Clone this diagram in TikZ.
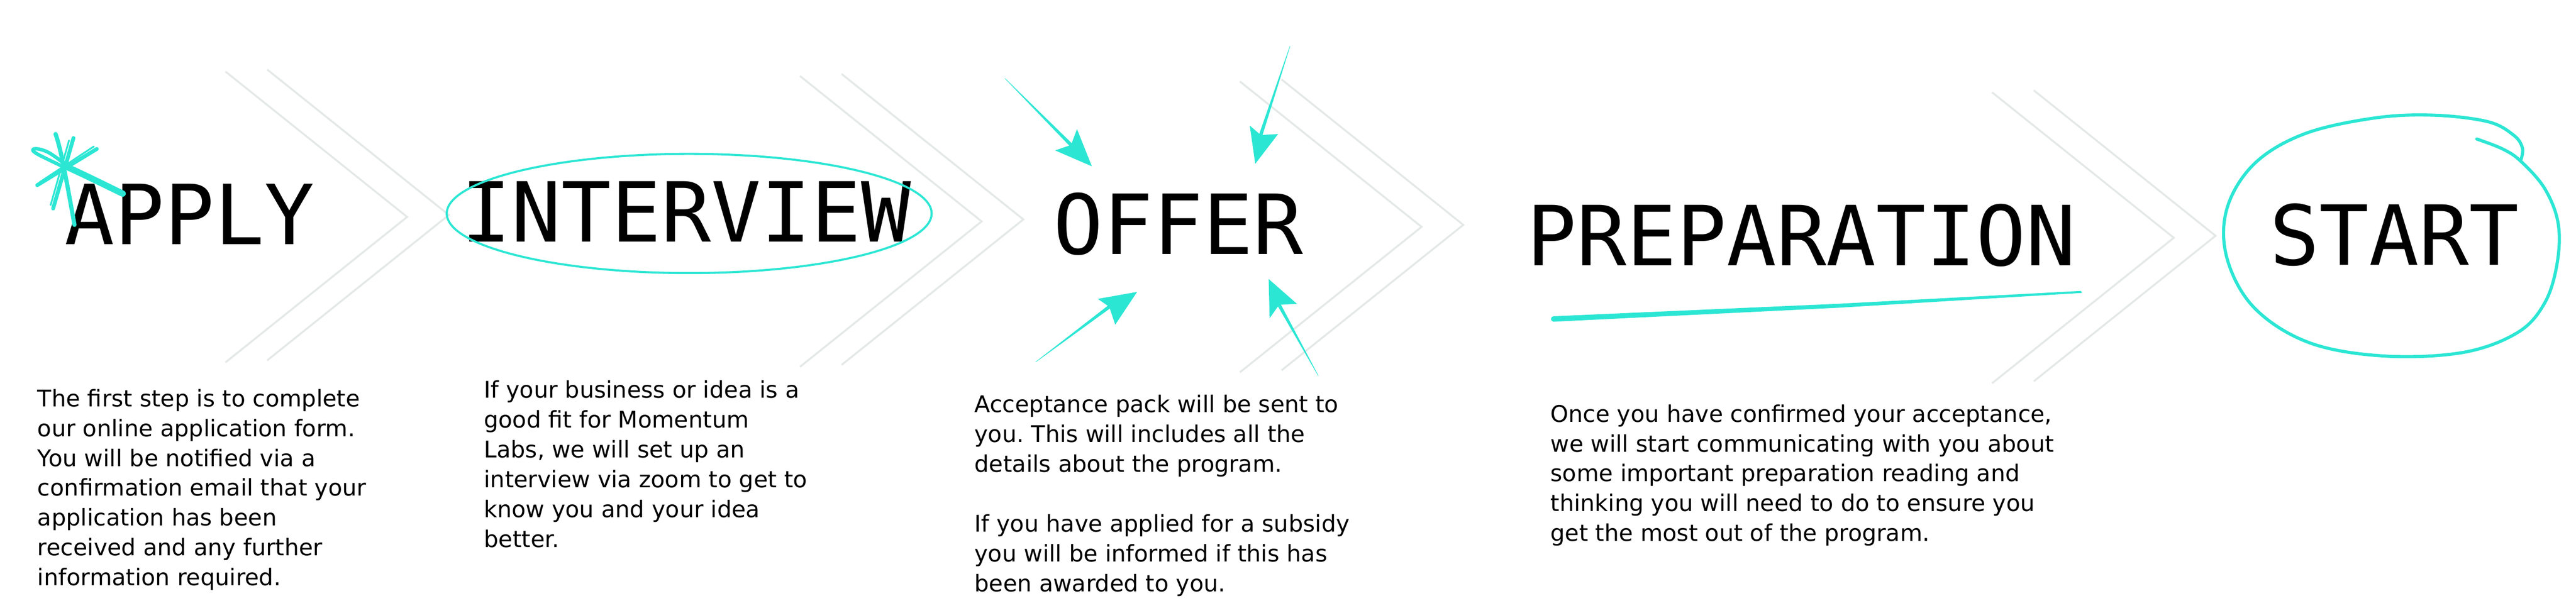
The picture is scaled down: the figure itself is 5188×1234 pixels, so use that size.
\documentclass[tikz,border=0pt]{standalone}
\usepackage{fontspec}
\setmainfont{DejaVu Sans}
\newfontfamily\titlefont{DejaVu Sans Mono}
\usetikzlibrary{calc}
\definecolor{teal1}{RGB}{44,230,212}
\definecolor{chev}{RGB}{228,233,232}
\frenchspacing
\newcommand\bodytext[1]{\vtop{\fontsize{13.15}{17.07}\selectfont\halign{##\hfil\cr#1\crcr}}}
\newcommand\offerarrow[5]{%
  \fill[teal1] ($(#2)!0.035cm!90:(#1)$) -- ($(#1)!0.004cm!-90:(#2)$) -- ($(#1)!0.004cm!90:(#2)$) -- ($(#2)!0.035cm!-90:(#1)$) -- cycle;
  \fill[teal1] (#4) -- (#3) -- (#2) -- (#5) -- cycle;}
\begin{document}
\begin{tikzpicture}[x=0.01cm,y=-0.01cm,
  chevline/.style={draw=chev, line width=1.1pt},
  title/.style={font=\titlefont\fontsize{47.5}{50}\selectfont, inner sep=0, anchor=base},
  body/.style={inner sep=0, anchor=base west},
  brush/.style={draw=teal1, line cap=round, line join=round},
]
\useasboundingbox (0,0) rectangle (5188,1234);

% chevrons
\foreach \cx/\cy in {454/144, 1611/153, 2497/164, 4012/186} {
  \draw[chevline] (\cx,\cy) -- ++(366,293) -- ++(-366,293);
  \draw[chevline] (\cx+84,\cy-4) -- ++(366,293) -- ++(-366,293);
}

% titles
\node[title] (apply) at (382,492) {APPLY};
\node[title] (interview) at (1382,487) {INTERVIEW};
\node[title] (offer) at (2373,512) {OFFER};
\node[title] (prep) at (3628,535) {PREPARATION};
\node[title] (start) at (4822,534) {START};

% star scribble on APPLY
\draw[brush, line width=2pt] (125,335) .. controls (100,322) and (70,310) .. (66,303)
   .. controls (64,296) and (90,300) .. (107,313) .. controls (118,320) and (126,327) .. (132,333);
\draw[brush, line width=3.6pt] (130,334) .. controls (170,352) and (210,372) .. (247,390);
\draw[brush, line width=2.4pt] (112,270) .. controls (122,300) and (128,330) .. (150,453);
\draw[brush, line width=2.2pt] (148,278) -- (107,420);
\draw[brush, line width=1pt] (139,283) -- (102,413);
\draw[brush, line width=2.2pt] (195,300) -- (75,373);
\draw[brush, line width=1pt] (189,295) -- (80,367);

% ellipse around INTERVIEW
\draw[teal1, line width=1.2pt] (1388,430) ellipse [x radius=4.88cm, y radius=1.2cm];

% arrows pointing at OFFER
\coordinate (a1t) at (2024,158); \coordinate (a1n) at (2157,292);
\coordinate (a1c) at (2125,303); \coordinate (a1p) at (2199,335); \coordinate (a1d) at (2169,260);
\coordinate (a2t) at (2598,93);  \coordinate (a2n) at (2539,272);
\coordinate (a2c) at (2517,253); \coordinate (a2p) at (2528,330); \coordinate (a2d) at (2574,270);
\coordinate (a3t) at (2086,729); \coordinate (a3n) at (2234,618);
\coordinate (a3c) at (2211,602); \coordinate (a3p) at (2290,588); \coordinate (a3d) at (2246,654);
\coordinate (a4t) at (2655,757); \coordinate (a4n) at (2576,614);
\coordinate (a4c) at (2557,641); \coordinate (a4p) at (2555,562); \coordinate (a4d) at (2612,612);
\offerarrow{a1t}{a1n}{a1c}{a1p}{a1d}
\offerarrow{a2t}{a2n}{a2c}{a2p}{a2d}
\offerarrow{a3t}{a3n}{a3c}{a3p}{a3d}
\offerarrow{a4t}{a4n}{a4c}{a4p}{a4d}

% underline under PREPARATION
\fill[teal1] (3129,637) -- (3700,612) -- (4191,586) -- (4193,590) -- (3700,620) -- (3129,648) -- cycle;
\fill[teal1] (3129,642.5) circle [radius=0.055cm];

% circle around START
\draw[brush, line width=1.8pt] plot[smooth, tension=0.6] coordinates {
 (4988,280) (5040,300) (5077,325) (5125,380) (5152,450) (5150,530) (5125,610) (5070,670)
 (4960,710) (4800,717) (4650,690) (4540,620) (4485,520) (4485,420) (4540,330) (4640,270)
 (4780,238) (4900,232) (5010,245) (5062,272) (5080,298) (5077,322)};

% body texts
\node[body] (t1) at (75,819) {\bodytext{The first step is to complete\cr
our online application form.\cr
You will be notified via a\cr
confirmation email that your\cr
application has been\cr
received and any further\cr
information required.}};
\node[body] (t2) at (974,802) {\bodytext{If your business or idea is a\cr
good fit for Momentum\cr
Labs, we will set up an\cr
interview via zoom to get to\cr
know you and your idea\cr
better.}};
\node[body] (t3) at (1962,831) {\bodytext{Acceptance pack will be sent to\cr
you. This will includes all the\cr
details about the program.\cr
\cr
If you have applied for a subsidy\cr
you will be informed if this has\cr
been awarded to you.}};
\node[body] (t4) at (3122,850) {\bodytext{Once you have confirmed your acceptance,\cr
we will start communicating with you about\cr
some important preparation reading and\cr
thinking you will need to do to ensure you\cr
get the most out of the program.}};
\end{tikzpicture}
\end{document}
